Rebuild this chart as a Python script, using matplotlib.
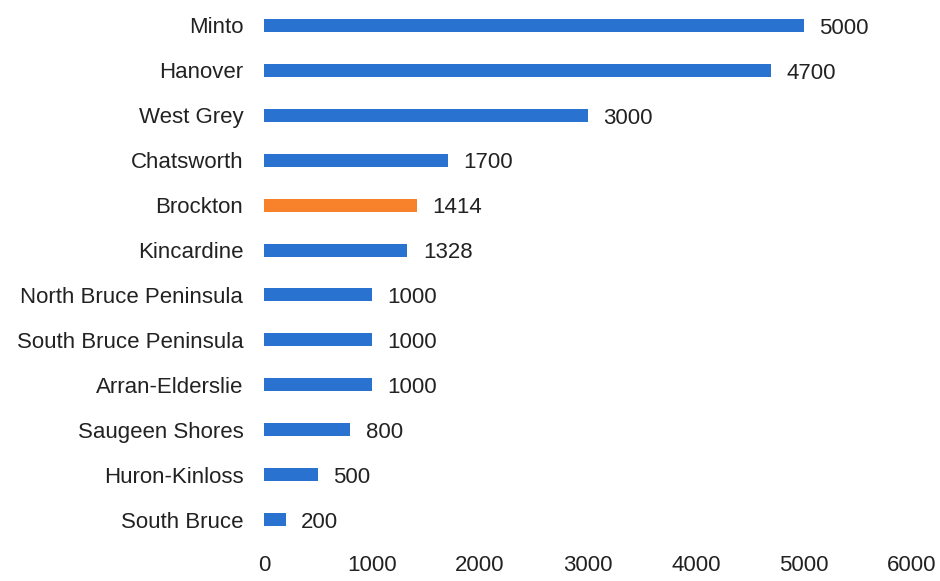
import matplotlib.pyplot as plt

plt.rcParams['font.family'] = ['Liberation Sans', 'DejaVu Sans']

# datos del grafico (de arriba hacia abajo)
municipios = ["Minto", "Hanover", "West Grey", "Chatsworth", "Brockton", "Kincardine",
              "North Bruce Peninsula", "South Bruce Peninsula", "Arran-Elderslie",
              "Saugeen Shores", "Huron-Kinloss", "South Bruce"]
valores = [5000, 4700, 3000, 1700, 1414, 1328, 1000, 1000, 1000, 800, 500, 200]
destacado = "Brockton"
ticks_x = [0, 1000, 2000, 3000, 4000, 5000, 6000]

azul = "#2a72d0"
naranja = "#f7822b"
texto = "#222222"
tam = 16

fig = plt.figure(figsize=(9.4, 5.81), dpi=100)
ax = fig.add_axes([0.281, 0.067, 0.689, 0.928])

posiciones = list(range(len(municipios)))
colores = [naranja if m == destacado else azul for m in municipios]
ax.barh(posiciones, valores, height=0.29, color=colores)

# etiquetas de valor al final de cada barra
for p, v in zip(posiciones, valores):
	ax.annotate(str(v), (v, p), xytext=(11, -2), textcoords="offset points",
	            va="center", ha="left", fontsize=tam, color=texto)

ax.set_yticks(posiciones)
ax.set_yticklabels(municipios, fontsize=tam, color=texto)
ax.set_ylim(len(municipios) - 0.5, -0.5)
ax.set_xlim(0, 6000)
ax.set_xticks(ticks_x)
ax.set_xticklabels([str(t) for t in ticks_x], fontsize=tam, color=texto)
ax.tick_params(axis="both", length=0)
ax.tick_params(axis="y", pad=15)
ax.tick_params(axis="x", pad=9)
for s in ax.spines.values():
	s.set_visible(False)

plt.savefig("out.png", dpi=100)
plt.close()
